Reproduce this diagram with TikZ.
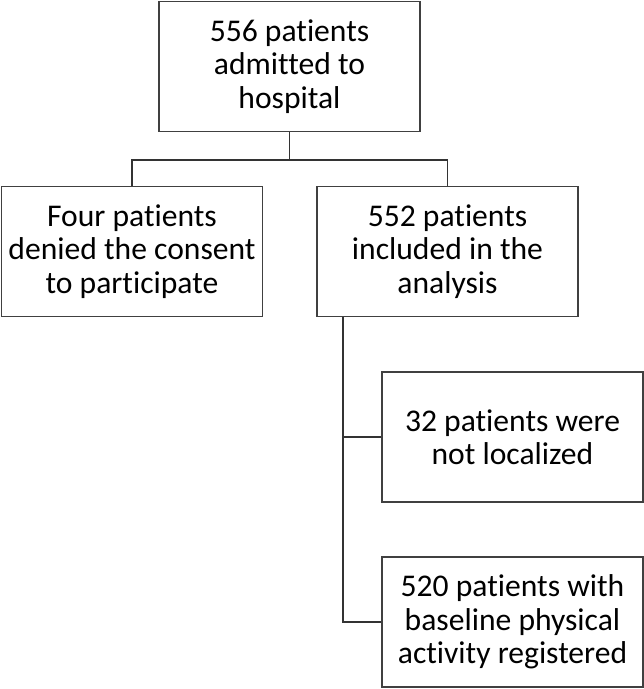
\documentclass[tikz,border=0pt]{standalone}
\usepackage{fontspec}
\setmainfont[Ligatures={NoCommon}]{Carlito}
\usepackage{tikz}

\begin{document}
\begin{tikzpicture}[x=1pt,y=-1pt]
\tikzset{box/.style={draw=black!75, line width=1.4pt, minimum width=261pt, minimum height=130pt,
  inner sep=0pt, align=center, font=\fontsize{31.6}{33.5}\selectfont},
  link/.style={draw=black!80, line width=1.2pt}}
\useasboundingbox (0,0) rectangle (644,689);
% boxes
\node [box] (admitted) at (289.5,66.5) {556 patients\\admitted to\\hospital};
\node [box] (denied) at (132,251.5) {Four patients\\denied the consent\\to participate};
\node [box] (included) at (447.5,251.5) {552 patients\\included in the\\analysis};
\node [box] (lost) at (512.5,437) {32 patients were\\not localized};
\node [box] (baseline) at (512.5,622) {520 patients with\\baseline physical\\activity registered};
% connectors
\coordinate (split) at (289.5,160);
\coordinate (trunk) at (343,317);
\draw [link] (admitted.south) -- (split);
\draw [link] (denied.north) |- (split) -| (included.north);
\draw [link] (trunk) |- (lost.west);
\draw [link] (trunk) |- (baseline.west);
\end{tikzpicture}
\end{document}
